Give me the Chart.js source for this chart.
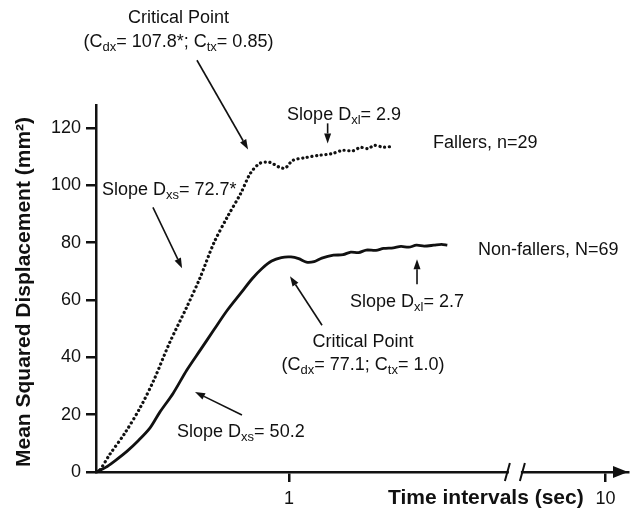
<!DOCTYPE html>
<html>
<head>
<meta charset="utf-8">
<script src="https://cdn.jsdelivr.net/npm/chart.js@4.4.1/dist/chart.umd.min.js"></script>
<style>
  html, body { margin: 0; padding: 0; background: #fff; }
  #wrap { width: 637px; height: 515px; }
</style>
</head>
<body>
<div id="wrap"><canvas id="msd" width="637" height="515"></canvas></div>
<script>
// time interval (sec) and mean squared displacement (mm2)
const timeFallers = [0, 0.02, 0.07, 0.15, 0.23, 0.30, 0.38, 0.47, 0.54, 0.61, 0.68, 0.75, 0.80, 0.85, 0.90, 0.95, 0.98, 1.02, 1.08, 1.16, 1.22, 1.28, 1.33, 1.37, 1.41, 1.44, 1.49, 1.54];
const msdFallers = [0, 0.7, 6.0, 13.6, 22.6, 32.1, 44.9, 57.5, 67.9, 79.8, 88.9, 97.2, 104.2, 107.7, 108.0, 106.3, 106.0, 108.7, 109.6, 110.5, 111.0, 112.2, 112.0, 113.2, 112.8, 113.9, 113.3, 113.6];

const timeNonFallers = [0, 0.05, 0.10, 0.16, 0.22, 0.28, 0.33, 0.40, 0.47, 0.54, 0.61, 0.68, 0.75, 0.81, 0.86, 0.91, 0.96, 1.01, 1.05, 1.09, 1.13, 1.17, 1.23, 1.28, 1.32, 1.36, 1.40, 1.45, 1.49, 1.54, 1.58, 1.62, 1.66, 1.70, 1.75, 1.79, 1.82];
const msdNonFallers = [0, 1.6, 4.0, 7.2, 11.0, 15.4, 20.8, 27.5, 35.5, 42.5, 49.5, 56.4, 62.4, 67.5, 71.0, 73.6, 74.8, 75.0, 74.4, 73.2, 73.4, 74.6, 75.6, 75.8, 76.7, 76.5, 77.4, 77.3, 78.0, 78.2, 78.7, 78.4, 79.1, 78.8, 79.1, 79.4, 79.1];

const yTickValues = [0, 20, 40, 60, 80, 100, 120];
const xTickValues = [1, 2.64];
const xTickLabels = ["1", "10"];
const xBreakAt = 2.17;

const yTitle = "Mean Squared Displacement (mm²)";
const xTitle = "Time intervals (sec)";

// annotation labels: [text, subscript] pieces, anchored in data units
const notes = [
  { t: 0.427, v: 158.2, align: "center", parts: [["Critical Point", false]] },
  { t: 0.427, v: 149.8, align: "center", parts: [["(C", false], ["dx", true], ["= 107.8*; C", false], ["tx", true], ["= 0.85)", false]] },
  { t: 0.99, v: 124.4, align: "left", parts: [["Slope D", false], ["xl", true], ["= 2.9", false]] },
  { t: 1.746, v: 114.6, align: "left", parts: [["Fallers, n=29", false]] },
  { t: 1.979, v: 77.4, align: "left", parts: [["Non-fallers, N=69", false]] },
  { t: 1.316, v: 59.2, align: "left", parts: [["Slope D", false], ["xl", true], ["= 2.7", false]] },
  { t: 1.383, v: 45.3, align: "center", parts: [["Critical Point", false]] },
  { t: 1.383, v: 37.3, align: "center", parts: [["(C", false], ["dx", true], ["= 77.1; C", false], ["tx", true], ["= 1.0)", false]] },
  { t: 0.42, v: 13.9, align: "left", parts: [["Slope D", false], ["xs", true], ["= 50.2", false]] },
  { t: 0.031, v: 98.3, align: "left", parts: [["Slope D", false], ["xs", true], ["= 72.7*", false]] },
];

// arrows: from [t, v] to [t, v] (head at the end)
const arrows = [
  [[0.523, 143.6], [0.788, 112.5]],
  [[1.20, 121.6], [1.20, 114.6]],
  [[1.663, 65.5], [1.663, 74.2]],
  [[1.171, 51.2], [1.005, 68.3]],
  [[0.756, 19.9], [0.513, 27.9]],
  [[0.295, 92.3], [0.446, 71.1]],
];

const FONT = '"Liberation Sans", Arial, Helvetica, sans-serif';
Chart.defaults.font.family = FONT;
Chart.defaults.font.size = 18;
Chart.defaults.color = "#111";

function toPoints(xs, ys) {
  return xs.map((x, i) => ({ x: x, y: ys[i] }));
}

function drawRich(ctx, parts, x, y, align) {
  const big = "18px " + FONT;
  const small = "13px " + FONT;
  let total = 0;
  for (const [txt, sub] of parts) {
    ctx.font = sub ? small : big;
    total += ctx.measureText(txt).width;
  }
  let cx = align === "center" ? x - total / 2 : x;
  ctx.textAlign = "left";
  ctx.textBaseline = "middle";
  for (const [txt, sub] of parts) {
    ctx.font = sub ? small : big;
    ctx.fillText(txt, cx, sub ? y + 5 : y);
    cx += ctx.measureText(txt).width;
  }
}

function drawArrow(ctx, x1, y1, x2, y2) {
  const ang = Math.atan2(y2 - y1, x2 - x1);
  const len = 10, half = 3.5;
  const bx = x2 - len * Math.cos(ang);
  const by = y2 - len * Math.sin(ang);
  ctx.beginPath();
  ctx.moveTo(x1, y1);
  ctx.lineTo(bx, by);
  ctx.stroke();
  ctx.beginPath();
  ctx.moveTo(x2, y2);
  ctx.lineTo(bx + half * Math.sin(ang), by - half * Math.cos(ang));
  ctx.lineTo(bx - half * Math.sin(ang), by + half * Math.cos(ang));
  ctx.closePath();
  ctx.fill();
}

const overlay = {
  id: "overlay",
  afterDraw(chart) {
    const { ctx, scales, chartArea } = chart;
    const xs = scales.x, ys = scales.y;
    const y0 = chartArea.bottom;
    ctx.save();
    ctx.fillStyle = "#111";
    ctx.strokeStyle = "#111";

    // axis break
    const bx = xs.getPixelForValue(xBreakAt);
    ctx.fillStyle = "#fff";
    ctx.fillRect(bx - 6, y0 - 4, 12, 8);
    ctx.fillStyle = "#111";
    ctx.lineWidth = 2;
    ctx.beginPath();
    ctx.moveTo(bx - 10, y0 + 9);
    ctx.lineTo(bx - 5, y0 - 9);
    ctx.moveTo(bx + 5, y0 + 9);
    ctx.lineTo(bx + 10, y0 - 9);
    ctx.stroke();

    // arrow head at the end of the x axis
    ctx.beginPath();
    ctx.moveTo(chartArea.right, y0);
    ctx.lineTo(chartArea.right - 15, y0 - 6);
    ctx.lineTo(chartArea.right - 15, y0 + 6);
    ctx.closePath();
    ctx.fill();

    // axis titles
    ctx.font = "bold 21px " + FONT;
    ctx.textBaseline = "middle";
    ctx.textAlign = "left";
    ctx.fillText(xTitle, 388, 498);
    ctx.save();
    ctx.translate(24, 292);
    ctx.rotate(-Math.PI / 2);
    ctx.textAlign = "center";
    ctx.fillText(yTitle, 0, 0);
    ctx.restore();

    // annotations
    for (const n of notes) {
      drawRich(ctx, n.parts, xs.getPixelForValue(n.t), ys.getPixelForValue(n.v), n.align);
    }
    ctx.lineWidth = 1.6;
    for (const [a, b] of arrows) {
      drawArrow(ctx,
        xs.getPixelForValue(a[0]), ys.getPixelForValue(a[1]),
        xs.getPixelForValue(b[0]), ys.getPixelForValue(b[1]));
    }
    ctx.restore();
  },
};

new Chart(document.getElementById("msd"), {
  type: "line",
  data: {
    datasets: [
      {
        label: "Fallers",
        data: toPoints(timeFallers, msdFallers),
        borderColor: "#111",
        borderWidth: 3.2,
        borderDash: [0.1, 4.6],
        borderCapStyle: "round",
        pointRadius: 0,
        tension: 0.3,
      },
      {
        label: "Non-fallers",
        data: toPoints(timeNonFallers, msdNonFallers),
        borderColor: "#111",
        borderWidth: 2.8,
        pointRadius: 0,
        tension: 0.3,
      },
    ],
  },
  options: {
    responsive: false,
    animation: false,
    devicePixelRatio: 1,
    layout: { padding: { top: 105, right: 9, left: 0, bottom: 0 } },
    plugins: { legend: { display: false }, tooltip: { enabled: false } },
    scales: {
      x: {
        type: "linear",
        min: 0,
        max: 2.756,
        afterFit: (s) => { s.height = 43; },
        afterBuildTicks: (s) => { s.ticks = xTickValues.map((v) => ({ value: v })); },
        ticks: {
          padding: 6,
          maxRotation: 0,
          callback: (val, i) => xTickLabels[i],
          font: { size: 18 },
          color: "#111",
        },
        grid: { drawOnChartArea: false, drawTicks: true, tickLength: 10, color: "#111", lineWidth: 2.5 },
        border: { display: true, color: "#111", width: 2.5 },
      },
      y: {
        min: 0,
        max: 128,
        afterFit: (s) => { s.width = 96; },
        afterBuildTicks: (s) => { s.ticks = yTickValues.map((v) => ({ value: v })); },
        ticks: { padding: 5, font: { size: 18 }, color: "#111" },
        grid: { drawOnChartArea: false, drawTicks: true, tickLength: 10, color: "#111", lineWidth: 2.5 },
        border: { display: true, color: "#111", width: 2.5 },
      },
    },
  },
  plugins: [overlay],
});
</script>
</body>
</html>
